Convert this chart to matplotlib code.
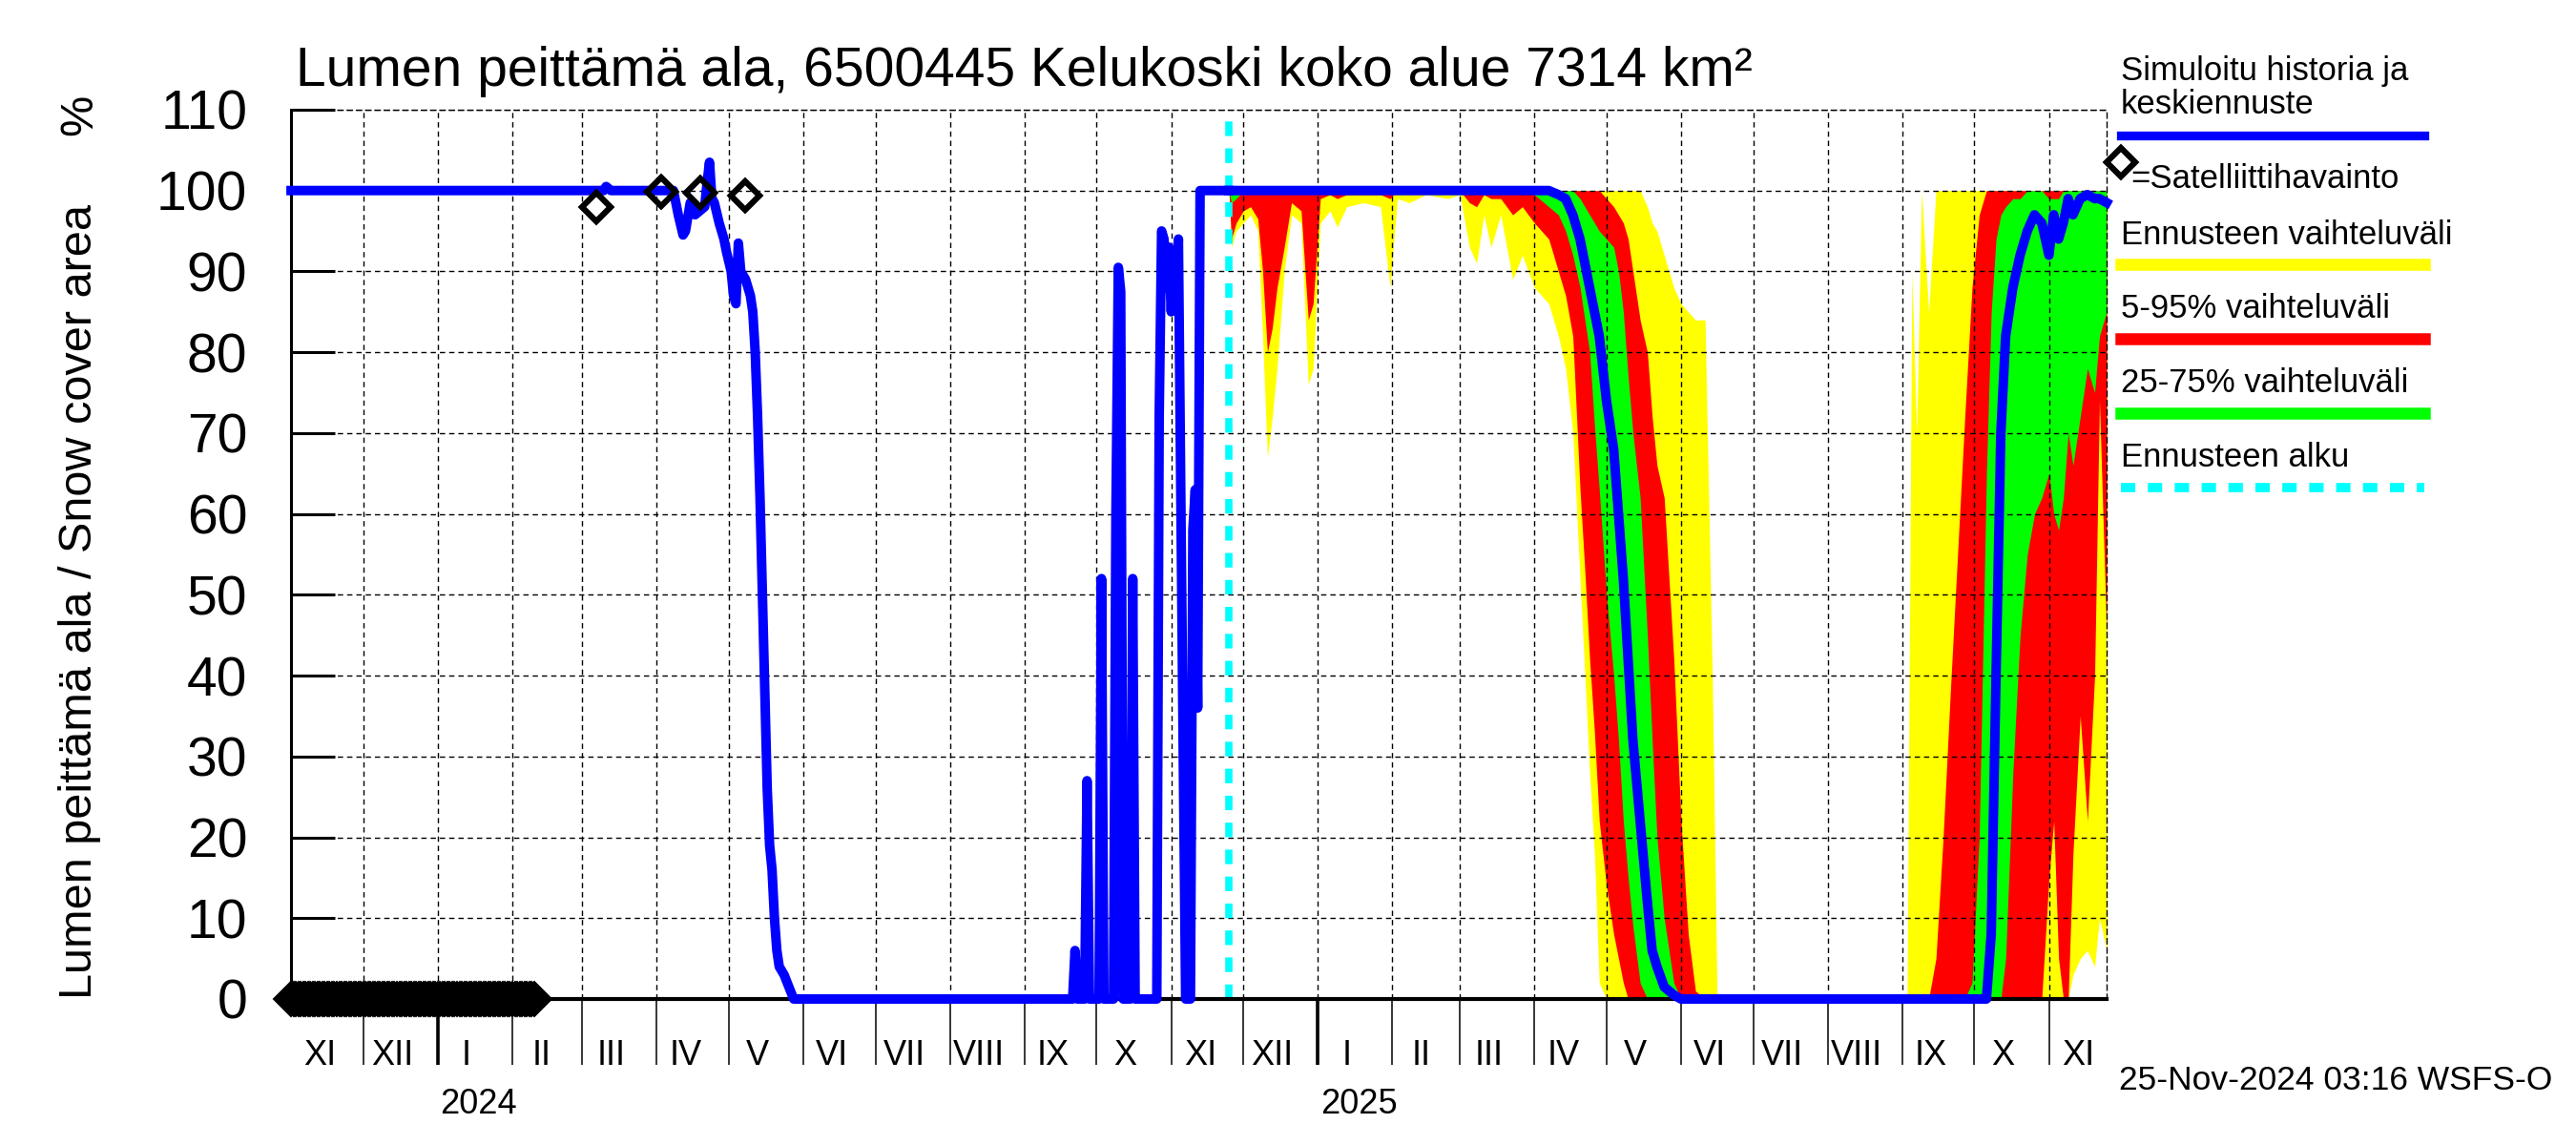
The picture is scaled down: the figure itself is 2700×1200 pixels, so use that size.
import matplotlib
matplotlib.use("Agg")
import matplotlib.pyplot as plt
import matplotlib.dates as mdates
from matplotlib.lines import Line2D
import pandas as pd

plt.rcParams['font.family'] = ['Liberation Sans', 'DejaVu Sans']

# simuloitu historia (%)
hist_dates = ['2023-11-01', '2024-03-10', '2024-03-11', '2024-03-13', '2024-04-08', '2024-04-10',
              '2024-04-12', '2024-04-13', '2024-04-15', '2024-04-17', '2024-04-19', '2024-04-21',
              '2024-04-22', '2024-04-23', '2024-04-24', '2024-04-25', '2024-04-27', '2024-04-29',
              '2024-04-30', '2024-05-02', '2024-05-03', '2024-05-04', '2024-05-05', '2024-05-06',
              '2024-05-08', '2024-05-10', '2024-05-11', '2024-05-12', '2024-05-13', '2024-05-14',
              '2024-05-15', '2024-05-16', '2024-05-17', '2024-05-18', '2024-05-19', '2024-05-20',
              '2024-05-21', '2024-05-22', '2024-05-24', '2024-05-26', '2024-05-28',
              '2024-09-21', '2024-09-22', '2024-09-23', '2024-09-26', '2024-09-27', '2024-09-28',
              '2024-10-02', '2024-10-03', '2024-10-04', '2024-10-08', '2024-10-09', '2024-10-10',
              '2024-10-11', '2024-10-12', '2024-10-15', '2024-10-16', '2024-10-17', '2024-10-26',
              '2024-10-27', '2024-10-28', '2024-10-29', '2024-10-30', '2024-10-31', '2024-11-01',
              '2024-11-02', '2024-11-03', '2024-11-04', '2024-11-05', '2024-11-06', '2024-11-07',
              '2024-11-09', '2024-11-10', '2024-11-11', '2024-11-12', '2024-11-13', '2024-11-25']
hist_vals = [100, 100, 100.5, 100, 100, 97, 94.5, 95, 98.5, 97, 97.5, 98, 101, 103.5, 99, 98.5,
             96, 94, 92.5, 90, 87, 86, 93.5, 90, 89, 87, 85, 80, 72, 62, 50, 38, 26, 19, 16, 10,
             6, 4, 3, 1.5, 0,
             0, 6, 0, 0, 27, 0, 0, 52, 0, 0, 60, 90.5, 87.5, 0, 0, 52, 0, 0, 72, 95, 94, 88, 93,
             85, 92, 88, 94, 62, 30, 0, 0, 58, 63, 36, 100, 100]

# satelliittihavainnot
sat_dates = ['2024-03-07', '2024-04-03', '2024-04-19', '2024-05-08']
sat_vals = [98, 99.8, 99.7, 99.4]
zero_obs_first = '2023-11-01'
zero_obs_last = '2024-02-10'

# ennuste: min, 5, 25, mediaani, 75, 95, max (%)
fc_dates = ['2024-11-25', '2024-11-26', '2024-11-28', '2024-12-01', '2024-12-04', '2024-12-07',
            '2024-12-09', '2024-12-11', '2024-12-13', '2024-12-15', '2024-12-18', '2024-12-21',
            '2024-12-25', '2024-12-28', '2024-12-30', '2025-01-02', '2025-01-06', '2025-01-09',
            '2025-01-13', '2025-01-20', '2025-01-27', '2025-01-31', '2025-02-03', '2025-02-08',
            '2025-02-15', '2025-02-24', '2025-03-01', '2025-03-05', '2025-03-08', '2025-03-11',
            '2025-03-14', '2025-03-18', '2025-03-23', '2025-03-27',
            '2025-04-01', '2025-04-07', '2025-04-11', '2025-04-14', '2025-04-17', '2025-04-20',
            '2025-04-22', '2025-04-24', '2025-04-26', '2025-04-28', '2025-05-01', '2025-05-04',
            '2025-05-06', '2025-05-08', '2025-05-10', '2025-05-12', '2025-05-15', '2025-05-18',
            '2025-05-20', '2025-05-22', '2025-05-25', '2025-05-29', '2025-06-01', '2025-06-04',
            '2025-06-07', '2025-06-11', '2025-06-14', '2025-06-16',
            '2025-09-03', '2025-09-05', '2025-09-07', '2025-09-09', '2025-09-12', '2025-09-15',
            '2025-09-18', '2025-09-21', '2025-09-24', '2025-09-27', '2025-09-30', '2025-10-03',
            '2025-10-06', '2025-10-08', '2025-10-10', '2025-10-12', '2025-10-14', '2025-10-17',
            '2025-10-20', '2025-10-23', '2025-10-26', '2025-10-29', '2025-11-01', '2025-11-03',
            '2025-11-05', '2025-11-07', '2025-11-09', '2025-11-11', '2025-11-14', '2025-11-17',
            '2025-11-20', '2025-11-22', '2025-11-25']
fc_min = [100, 93, 95, 96, 97, 95, 82, 67, 72, 78, 90, 97, 96, 76, 78, 96, 97.5, 95.5, 98, 98.5,
          98, 88, 99, 98.5, 99.5, 99, 99.5, 93, 91, 97, 93, 97, 89, 92,
          88, 86, 82, 78, 70, 52, 40, 28, 18, 2, 0, 0, 0, 0, 0, 0, 0, 0, 0, 0, 0, 0, 0, 0, 0, 0, 0, 0,
          0, 0, 0, 0, 0, 0, 0, 0, 0, 0, 0, 0, 0, 0, 0, 0, 0, 0, 0, 0, 0, 0, 0, 0, 0, 0, 0,
          3, 5, 6, 4, 10, 6]
fc_p5 = [100, 94, 96, 97.5, 98, 96.5, 90, 80, 83, 88, 93, 98.5, 97.5, 84, 86, 99, 99.5, 99, 99.5,
         99.5, 99.5, 99, 100, 100, 100, 100, 100, 98.5, 98, 99.5, 99, 99, 97, 98,
         96, 94, 90, 87, 82, 63, 53, 42, 33, 22, 14, 8, 5, 2, 0, 0, 0, 0, 0, 0, 0, 0, 0, 0, 0, 0, 0, 0,
         0, 0, 0, 0, 0, 0, 0, 0, 0, 0, 0, 0, 0, 0, 0, 0, 0, 0, 0, 0, 0, 0,
         15, 22, 5, 0, 0, 18, 35, 22, 40, 74, 45]
fc_p25 = [100, 98.5, 99] + [100] * 31 + \
         [99.5, 98, 97, 95, 92, 88, 84, 80, 71, 63, 50, 40, 32, 22, 15, 9, 2,
          0, 0, 0, 0, 0, 0, 0, 0, 0, 0, 0] + \
         [0, 0, 0, 0, 0, 0, 0, 0, 0, 0, 0, 0, 0, 0, 0, 0,
          5, 28, 45, 55, 60, 62, 65, 60, 58, 62, 70, 66, 72, 78, 75, 82, 85]
fc_med = [100] * 34 + \
         [100, 100, 99.5, 99, 97, 94, 91, 88, 85, 82, 74, 68, 60, 52, 42, 32, 22, 12, 6, 4, 1.5, 0.5,
          0, 0, 0, 0, 0, 0] + \
         [0, 0, 0, 0, 0, 0, 0, 0, 0, 0, 0, 0, 0,
          8, 40, 70, 82, 88, 92, 95, 97, 96, 92, 97, 94, 96, 99, 97, 99, 99.5, 99, 99, 98.5]
fc_p75 = [100] * 34 + \
         [100, 100, 100, 100, 100, 99, 98, 97, 96, 95, 94, 93, 90, 85, 77, 70, 62, 45, 32, 20, 10, 2,
          0, 0, 0, 0, 0, 0] + \
         [0, 0, 0, 0, 0, 0, 0, 0, 0, 0,
          2, 20, 65, 85, 94, 97, 98, 99, 99, 100, 100, 100, 99, 99, 99,
          100, 100, 100, 100, 100, 100, 100, 100]
fc_p95 = [100] * 34 + \
         [100, 100, 100, 100, 100, 100, 100, 100, 100, 100,
          99, 98, 97, 96, 94, 90, 84, 80, 72, 66, 62, 42, 22, 8, 1, 0, 0, 0] + \
         [0, 0, 0, 0, 0, 5, 20, 38, 55, 72, 88, 97] + [100] * 21
fc_max = [100] * 34 + \
         [100] * 17 + [98, 96, 95, 92, 88, 86, 85, 84, 84, 40, 0] + \
         [0, 90, 70, 100, 85] + [100] * 28

forecast_start = '2024-11-25'
roman = ['I', 'II', 'III', 'IV', 'V', 'VI', 'VII', 'VIII', 'IX', 'X', 'XI', 'XII']

fig = plt.figure(figsize=(27, 12), dpi=100)
ax = fig.add_axes([0.113, 0.1275, 0.7048, 0.7767])

fd = pd.to_datetime(fc_dates)
hd = pd.to_datetime(hist_dates)

ax.fill_between(fd, fc_min, fc_max, color='#ffff00', lw=0, zorder=1)
ax.fill_between(fd, fc_p5, fc_p95, color='#ff0000', lw=0, zorder=1.1)
ax.fill_between(fd, fc_p25, fc_p75, color='#00ff00', lw=0, zorder=1.2)
ax.axvline(pd.Timestamp(forecast_start), color='#00ffff', lw=5.5, dashes=(2.0, 1.7), zorder=2)
ax.plot(hd, hist_vals, color='#0000ff', lw=7.2, zorder=3, clip_on=False)
ax.plot(fd, fc_med, color='#0000ff', lw=7.2, zorder=3, clip_on=False)

zd = pd.date_range(zero_obs_first, zero_obs_last, freq='D')
ax.plot(zd, [0] * len(zd), ls='none', marker='D', ms=15, mew=4.5, mec='k', mfc='none',
        zorder=4, clip_on=False)
ax.plot(pd.to_datetime(sat_dates), sat_vals, ls='none', marker='D', ms=15, mew=4.5, mec='k',
        mfc='none', zorder=4, clip_on=False)

ax.set_xlim(pd.Timestamp('2023-11-01'), pd.Timestamp('2025-11-25'))
ax.set_ylim(0, 110)

# kuukausijako
month_starts = pd.date_range('2023-11-01', '2025-11-01', freq='MS')
major = month_starts[1:]
ax.set_xticks(mdates.date2num(major.to_pydatetime()))
mids = month_starts + pd.Timedelta(days=12)
ax.set_xticks(mdates.date2num(mids.to_pydatetime()), minor=True)
ax.set_xticklabels([roman[m.month - 1] for m in month_starts], minor=True)
ax.tick_params(axis='x', which='major', direction='out', length=50, width=1.1,
               labelbottom=False)
ax.tick_params(axis='x', which='minor', length=0, labelsize=26, pad=30)
for t, d in zip(ax.xaxis.get_major_ticks(), major):
    if d.month == 1:
        t.tick1line.set_markeredgewidth(2.6)

for yr in ['2024', '2025']:
    ax.text(mdates.date2num(pd.Timestamp(yr + '-01-02')), -0.1288, yr,
            transform=ax.get_xaxis_transform(), ha='left', va='baseline', fontsize=26)

ax.set_yticks(range(0, 111, 10))
ax.tick_params(axis='y', direction='in', length=33, width=2.2, labelsize=41, pad=33)

ax.grid(True, which='major', color='k', ls=(0, (4, 3)), lw=1)
ax.set_axisbelow('line')
ax.spines['left'].set_linewidth(2.2)
ax.spines['bottom'].set_linewidth(3)
for s in ['top', 'right']:
    ax.spines[s].set_linestyle((0, (4, 3)))
    ax.spines[s].set_linewidth(1)

fig.text(0.1148, 0.9254, 'Lumen peittämä ala, 6500445 Kelukoski koko alue 7314 km²',
         fontsize=41, va='baseline')
fig.text(0.031, 0.1275, 'Lumen peittämä ala / Snow cover area', rotation=90,
         ha='center', va='bottom', fontsize=35)
fig.text(0.031, 0.9, '%', rotation=90, ha='center', va='center', fontsize=35)
fig.text(0.8226, 0.0483, '25-Nov-2024 03:16 WSFS-O', fontsize=25.5, va='baseline')

# selite
lx0, lx1 = 0.8233, 0.9411
fs = 25
fig.text(lx0, 0.930, 'Simuloitu historia ja', fontsize=fs, va='baseline')
fig.text(lx0, 0.9008, 'keskiennuste', fontsize=fs, va='baseline')
fig.add_artist(Line2D([lx0, lx1], [0.8817, 0.8817], color='#0000ff', lw=6.7))
fig.add_artist(Line2D([lx0], [0.8583], ls='none', marker='D', ms=15, mew=4.5, mec='k',
                      mfc='none'))
fig.text(0.827, 0.8358, '=Satelliittihavainto', fontsize=fs, va='baseline')
fig.text(lx0, 0.7867, 'Ennusteen vaihteluväli', fontsize=fs, va='baseline')
fig.add_artist(Line2D([lx0, lx1], [0.7692, 0.7692], color='#ffff00', lw=9))
fig.text(lx0, 0.7225, '5-95% vaihteluväli', fontsize=fs, va='baseline')
fig.add_artist(Line2D([lx0, lx1], [0.7042, 0.7042], color='#ff0000', lw=9))
fig.text(lx0, 0.6575, '25-75% vaihteluväli', fontsize=fs, va='baseline')
fig.add_artist(Line2D([lx0, lx1], [0.6392, 0.6392], color='#00ff00', lw=9))
fig.text(lx0, 0.5925, 'Ennusteen alku', fontsize=fs, va='baseline')
fig.add_artist(Line2D([lx0, lx1], [0.5742, 0.5742], color='#00ffff', lw=7,
                      dashes=(1.55, 1.35), solid_capstyle='butt', dash_capstyle='butt'))

fig.savefig('out.png', dpi=100)
